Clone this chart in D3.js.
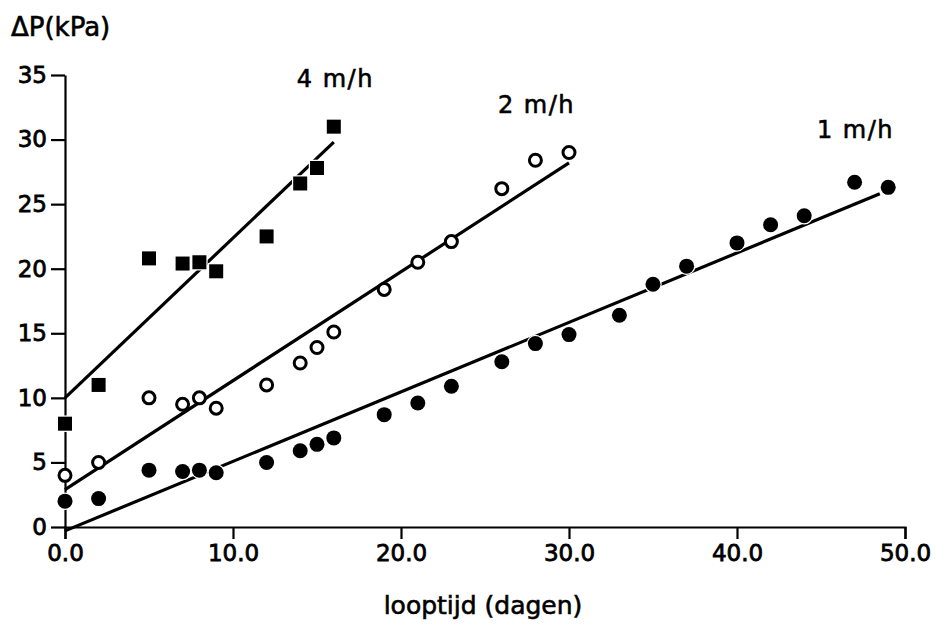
<!DOCTYPE html>
<html>
<head>
<meta charset="utf-8">
<script src="https://cdn.jsdelivr.net/npm/d3@7"></script>
<style>
  html, body { margin: 0; padding: 0; background: #fff; }
  svg { display: block; }
  text { font-family: "DejaVu Sans", sans-serif; fill: #000; }
</style>
</head>
<body>
<svg id="chart" width="946" height="628"></svg>
<script>
// ---- data ----
const days4 = [0, 2, 5, 7, 8, 9, 12, 14, 15, 16];
const dp4   = [8.0, 11.0, 20.8, 20.4, 20.5, 19.8, 22.5, 26.6, 27.8, 31.0];

const days2 = [0, 2, 5, 7, 8, 9, 12, 14, 15, 16, 19, 21, 23, 26, 28, 30];
const dp2   = [4.0, 5.0, 10.0, 9.5, 10.0, 9.2, 11.0, 12.7, 13.9, 15.1, 18.4, 20.5, 22.1, 26.2, 28.4, 29.0];

const days1 = [0, 2, 5, 7, 8, 9, 12, 14, 15, 16, 19, 21, 23, 26, 28, 30, 33, 35, 37, 40, 42, 44, 47, 49];
const dp1   = [2.0, 2.2, 4.4, 4.3, 4.4, 4.2, 5.0, 5.9, 6.4, 6.9, 8.7, 9.6, 10.9, 12.8, 14.2, 14.9, 16.4, 18.8, 20.2, 22.0, 23.4, 24.1, 26.7, 26.3];

// fitted lines (endpoints)
const fitDays4 = [0, 16];   const fit4 = [10.0, 29.8];
const fitDays2 = [0, 30];   const fit2 = [2.9, 28.2];
const fitDays1 = [0, 48.5]; const fit1 = [-0.3, 25.8];

const seriesLabels = ["4 m/h", "2 m/h", "1 m/h"];
const xTicks = [0, 10, 20, 30, 40, 50];
const yTicks = [0, 5, 10, 15, 20, 25, 30, 35];
const yTitle = "ΔP(kPa)";
const xTitle = "looptijd (dagen)";

// ---- drawing ----
const svg = d3.select("#chart");
const x = d3.scaleLinear().domain([0, 50]).range([65, 905]);
const y = d3.scaleLinear().domain([0, 35]).range([527, 75]);

// axes
const xAxis = d3.axisBottom(x).tickValues(xTicks).tickFormat(d3.format(".1f"))
  .tickSize(12).tickSizeOuter(12).tickPadding(6);
const yAxis = d3.axisLeft(y).tickValues(yTicks).tickFormat(d3.format("d"))
  .tickSize(14).tickSizeOuter(0).tickPadding(4);

const gx = svg.append("g").attr("transform", `translate(0,${y(0)})`).call(xAxis);
const gy = svg.append("g").attr("transform", `translate(${x(0)},0)`).call(yAxis);
[gx, gy].forEach(g => {
  g.selectAll("path, line").attr("stroke", "#000").attr("stroke-width", 2.2);
  g.selectAll("text").attr("font-size", 23)
    .attr("font-family", "DejaVu Sans, sans-serif").attr("fill", "#000")
    .attr("stroke", "#000").attr("stroke-width", 0.8);
});

// fit lines
const line = d3.line().x(d => x(d[0])).y(d => y(d[1]));
[[fitDays4, fit4], [fitDays2, fit2], [fitDays1, fit1]].forEach(([dx, dy]) => {
  svg.append("path")
    .attr("d", line(dx.map((d, i) => [d, dy[i]])))
    .attr("fill", "none").attr("stroke", "#000").attr("stroke-width", 3.2);
});

// markers
svg.append("g").selectAll("rect")
  .data(days4.map((d, i) => [d, dp4[i]]))
  .join("rect")
  .attr("x", d => x(d[0]) - 7).attr("y", d => y(d[1]) - 7)
  .attr("width", 14).attr("height", 14)
  .attr("fill", "#000").attr("stroke", "#fff").attr("stroke-width", 2.5)
  .attr("paint-order", "stroke");

svg.append("g").selectAll("circle")
  .data(days2.map((d, i) => [d, dp2[i]]))
  .join("circle")
  .attr("cx", d => x(d[0])).attr("cy", d => y(d[1])).attr("r", 6)
  .attr("fill", "#fff").attr("stroke", "#000").attr("stroke-width", 3);

svg.append("g").selectAll("circle")
  .data(days1.map((d, i) => [d, dp1[i]]))
  .join("circle")
  .attr("cx", d => x(d[0])).attr("cy", d => y(d[1])).attr("r", 7.5)
  .attr("fill", "#000").attr("stroke", "#fff").attr("stroke-width", 2.5)
  .attr("paint-order", "stroke");

// series labels
const labelPos = [[13.8, 34.07], [25.77, 32.06], [44.76, 30.16]];
seriesLabels.forEach((t, i) => {
  svg.append("text")
    .attr("x", x(labelPos[i][0])).attr("y", y(labelPos[i][1]))
    .attr("font-size", 24).attr("text-anchor", "start")
    .attr("letter-spacing", 1.5)
    .attr("stroke", "#000").attr("stroke-width", 0.6)
    .text(t);
});

// titles
svg.append("text").attr("x", 11).attr("y", 36).attr("font-size", 26)
  .attr("stroke", "#000").attr("stroke-width", 0.6).text(yTitle);
svg.append("text").attr("x", 483).attr("y", 614).attr("font-size", 25)
  .attr("text-anchor", "middle")
  .attr("stroke", "#000").attr("stroke-width", 0.6).text(xTitle);
</script>
</body>
</html>
